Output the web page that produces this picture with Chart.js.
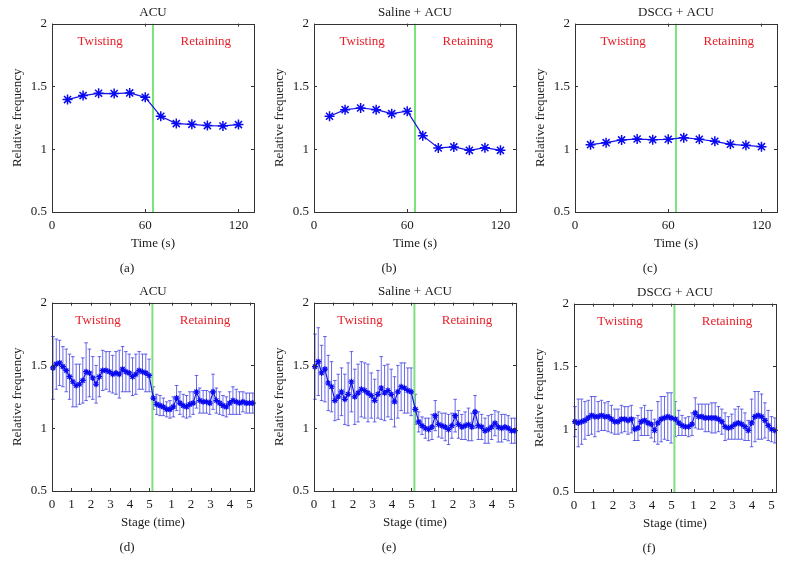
<!DOCTYPE html>
<html>
<head>
<meta charset="utf-8">
<script src="https://cdn.jsdelivr.net/npm/chart.js@4"></script>
<style>
body { margin: 0; background: #fff; }
#fig { position: relative; width: 785px; height: 574px; overflow: hidden; }
#fig canvas { position: absolute; }
</style>
</head>
<body>
<div id="fig">
  <canvas id="pa" width="265" height="285" style="left:0px;top:0px"></canvas>
  <canvas id="pb" width="265" height="285" style="left:262px;top:0px"></canvas>
  <canvas id="pc" width="265" height="285" style="left:523px;top:0px"></canvas>
  <canvas id="pd" width="265" height="285" style="left:0px;top:279px"></canvas>
  <canvas id="pe" width="265" height="285" style="left:262px;top:279px"></canvas>
  <canvas id="pf" width="265" height="285" style="left:522px;top:280px"></canvas>
</div>
<script>
// top row: one value every 10 s
var timeX = [10, 20, 30, 40, 50, 60, 70, 80, 90, 100, 110, 120];
var acuTime    = [1.395, 1.427, 1.445, 1.443, 1.448, 1.413, 1.262, 1.204, 1.198, 1.188, 1.185, 1.196];
var salineTime = [1.262, 1.315, 1.328, 1.315, 1.283, 1.302, 1.108, 1.010, 1.018, 0.991, 1.012, 0.991];
var dscgTime   = [1.036, 1.052, 1.074, 1.081, 1.076, 1.079, 1.092, 1.079, 1.063, 1.039, 1.031, 1.020];
var timeTicks = [0, 60, 120];

// bottom row: stage positions (twisting 0..5, then retaining restarting after the green line)
var stageX = [0.05, 0.22, 0.39, 0.56, 0.73, 0.9, 1.07, 1.24, 1.41, 1.58, 1.75, 1.92, 2.09, 2.26, 2.43,
  2.6, 2.77, 2.94, 3.11, 3.28, 3.45, 3.62, 3.79, 3.96, 4.13, 4.3, 4.47, 4.64, 4.81, 4.98,
  5.2, 5.37, 5.54, 5.71, 5.88, 6.05, 6.22, 6.39, 6.56, 6.73, 6.9, 7.07, 7.24, 7.41, 7.58,
  7.75, 7.92, 8.09, 8.26, 8.43, 8.6, 8.77, 8.94, 9.11, 9.28, 9.45, 9.62, 9.79, 9.96, 10.13, 10.3];
var stageTicks = [0, 1, 2, 3, 4, 5, 6.13, 7.13, 8.13, 9.13, 10.13];
var stageTickLabels = ['0', '1', '2', '3', '4', '5', '1', '2', '3', '4', '5'];

var acuStage = [1.48, 1.51, 1.52, 1.49, 1.46, 1.41, 1.37, 1.34, 1.35, 1.38, 1.45, 1.44, 1.40, 1.35, 1.41,
  1.46, 1.46, 1.45, 1.43, 1.44, 1.43, 1.47, 1.45, 1.44, 1.41, 1.43, 1.46, 1.45, 1.44, 1.42,
  1.24, 1.19, 1.18, 1.17, 1.15, 1.15, 1.17, 1.24, 1.20, 1.18, 1.17, 1.19, 1.20, 1.29, 1.22,
  1.21, 1.21, 1.20, 1.29, 1.22, 1.20, 1.18, 1.17, 1.20, 1.22, 1.21, 1.20, 1.21, 1.20, 1.20, 1.20];
var acuErr = [0.25, 0.20, 0.18, 0.16, 0.17, 0.18, 0.20, 0.17, 0.16, 0.18, 0.23, 0.19, 0.17, 0.15, 0.16,
  0.16, 0.15, 0.16, 0.15, 0.17, 0.19, 0.18, 0.16, 0.15, 0.15, 0.16, 0.15, 0.14, 0.15, 0.13,
  0.09, 0.08, 0.08, 0.07, 0.06, 0.07, 0.08, 0.10, 0.09, 0.09, 0.09, 0.10, 0.09, 0.13, 0.10,
  0.09, 0.09, 0.09, 0.14, 0.10, 0.09, 0.08, 0.08, 0.09, 0.11, 0.10, 0.09, 0.08, 0.08, 0.08, 0.08];

var salineStage = [1.49, 1.53, 1.44, 1.47, 1.36, 1.33, 1.22, 1.25, 1.29, 1.23, 1.27, 1.37, 1.25, 1.28, 1.31,
  1.30, 1.28, 1.26, 1.22, 1.27, 1.32, 1.28, 1.30, 1.27, 1.21, 1.29, 1.33, 1.32, 1.30, 1.29,
  1.15, 1.05, 1.02, 1.00, 0.99, 1.01, 1.10, 1.03, 1.02, 1.01, 0.99, 1.02, 1.10, 1.03, 1.01,
  1.02, 1.03, 1.01, 1.13, 1.02, 1.01, 0.98, 0.99, 1.01, 1.04, 1.01, 1.00, 1.01, 1.00, 0.98, 0.98];
var salineErr = [0.26, 0.27, 0.22, 0.26, 0.22, 0.20, 0.16, 0.18, 0.19, 0.20, 0.25, 0.24, 0.22, 0.23, 0.22,
  0.22, 0.23, 0.18, 0.17, 0.19, 0.25, 0.22, 0.21, 0.20, 0.20, 0.21, 0.19, 0.20, 0.18, 0.19,
  0.12, 0.08, 0.07, 0.08, 0.09, 0.10, 0.12, 0.10, 0.10, 0.11, 0.12, 0.10, 0.13, 0.11, 0.10,
  0.11, 0.13, 0.11, 0.13, 0.11, 0.10, 0.10, 0.11, 0.10, 0.10, 0.12, 0.11, 0.10, 0.10, 0.10, 0.10];

var dscgStage = [1.06, 1.05, 1.06, 1.07, 1.09, 1.11, 1.10, 1.10, 1.11, 1.10, 1.10, 1.08, 1.06, 1.06, 1.08,
  1.08, 1.07, 1.08, 1.00, 1.01, 1.06, 1.07, 1.05, 1.04, 0.99, 1.05, 1.08, 1.09, 1.10, 1.09,
  1.08, 1.05, 1.03, 1.02, 1.02, 1.04, 1.13, 1.10, 1.10, 1.09, 1.09, 1.09, 1.09, 1.08, 1.06,
  1.02, 1.01, 1.02, 1.04, 1.05, 1.04, 1.02, 0.99, 1.05, 1.10, 1.11, 1.10, 1.07, 1.03, 1.00, 0.99];
var dscgErr = [0.12, 0.19, 0.18, 0.15, 0.14, 0.15, 0.16, 0.12, 0.12, 0.11, 0.12, 0.11, 0.10, 0.10, 0.11,
  0.10, 0.11, 0.11, 0.09, 0.10, 0.11, 0.12, 0.10, 0.11, 0.09, 0.17, 0.18, 0.17, 0.19, 0.20,
  0.14, 0.10, 0.08, 0.07, 0.08, 0.09, 0.12, 0.10, 0.10, 0.11, 0.11, 0.12, 0.12, 0.10, 0.10,
  0.11, 0.09, 0.10, 0.12, 0.13, 0.12, 0.11, 0.08, 0.19, 0.20, 0.19, 0.18, 0.14, 0.12, 0.10, 0.10];

var yTicks = [0.5, 1, 1.5, 2];
var phaseNames = ['Twisting', 'Retaining'];
var phaseTimeX = [31, 99];
var phaseStageX = [2.36, 7.85];
var phaseY = 1.86;
var splitTime = 65;
var splitStage = 5.15;

Chart.defaults.font.family = "'Liberation Serif', 'DejaVu Serif', serif";
Chart.defaults.font.size = 13;
Chart.defaults.color = '#1a1a1a';

// error bars under the line
var errorBars = {
  id: 'errorBars',
  beforeDatasetsDraw: function(chart) {
    var ctx = chart.ctx, xs = chart.scales.x, ys = chart.scales.y;
    chart.data.datasets.forEach(function(ds) {
      if (!ds.errors) return;
      ctx.save();
      ctx.strokeStyle = 'rgba(55,55,225,0.75)';
      ctx.lineWidth = 1;
      ctx.beginPath();
      ds.data.forEach(function(p, i) {
        var px = xs.getPixelForValue(p.x);
        var t = ys.getPixelForValue(p.y + ds.errors[i]);
        var b = ys.getPixelForValue(p.y - ds.errors[i]);
        ctx.moveTo(px, t); ctx.lineTo(px, b);
        ctx.moveTo(px - 1.8, t); ctx.lineTo(px + 1.8, t);
        ctx.moveTo(px - 1.8, b); ctx.lineTo(px + 1.8, b);
      });
      ctx.stroke();
      ctx.restore();
    });
  }
};

// matlab-like box with inward ticks + phase names
var boxAndLabels = {
  id: 'boxAndLabels',
  afterDraw: function(chart) {
    var ctx = chart.ctx, a = chart.chartArea;
    var xs = chart.scales.x, ys = chart.scales.y;
    ctx.save();
    ctx.strokeStyle = '#333';
    ctx.lineWidth = 1;
    ctx.strokeRect(Math.round(a.left) + 0.5, Math.round(a.top) + 0.5,
      Math.round(a.right - a.left), Math.round(a.bottom - a.top));
    ctx.beginPath();
    xs.ticks.forEach(function(t) {
      var px = Math.round(xs.getPixelForValue(t.value)) + 0.5;
      ctx.moveTo(px, a.bottom); ctx.lineTo(px, a.bottom - 3);
      ctx.moveTo(px, a.top); ctx.lineTo(px, a.top + 3);
    });
    ys.ticks.forEach(function(t) {
      var py = Math.round(ys.getPixelForValue(t.value)) + 0.5;
      ctx.moveTo(a.left, py); ctx.lineTo(a.left + 3, py);
      ctx.moveTo(a.right, py); ctx.lineTo(a.right - 3, py);
    });
    ctx.stroke();
    var px = chart.options.plugins.boxAndLabels.phaseX;
    ctx.fillStyle = '#e8202a';
    ctx.font = "13px 'Liberation Serif', serif";
    ctx.textAlign = 'center';
    ctx.textBaseline = 'middle';
    phaseNames.forEach(function(name, i) {
      ctx.fillText(name, xs.getPixelForValue(px[i]), ys.getPixelForValue(phaseY));
    });
    ctx.restore();
  }
};

function pts(xv, yv) {
  return xv.map(function(x, i) { return { x: x, y: yv[i] }; });
}

function makePanel(id, title, tag, xTitle, xv, yv, errs, opt) {
  var datasets = [{
    data: pts(xv, yv),
    errors: errs,
    showLine: true,
    borderColor: '#1414e6',
    backgroundColor: '#1414e6',
    borderWidth: opt.lineWidth,
    pointStyle: 'star',
    pointRadius: opt.radius,
    pointBorderWidth: opt.starWidth,
    pointBorderColor: '#0a0af0',
    clip: false
  }, {
    data: [{ x: opt.split, y: 0.5 }, { x: opt.split, y: 2 }],
    showLine: true,
    borderColor: opt.green,
    borderWidth: opt.greenWidth,
    pointRadius: 0
  }];
  return new Chart(document.getElementById(id), {
    type: 'scatter',
    data: { datasets: datasets },
    options: {
      responsive: false,
      animation: false,
      layout: { padding: { left: 0, right: 11, top: 0, bottom: 0 } },
      plugins: {
        legend: { display: false },
        tooltip: { enabled: false },
        title: {
          display: true, text: title, fullSize: false,
          font: { size: 13, weight: 'normal' }, padding: { top: 5, bottom: 3 }
        },
        subtitle: { display: true, text: tag, position: 'bottom', font: { size: 13 }, color: '#1a1a1a', padding: { top: 0, bottom: 9 } },
        boxAndLabels: { phaseX: opt.phaseX }
      },
      scales: {
        x: {
          type: 'linear',
          min: 0,
          max: opt.xMax,
          grid: { display: false, drawTicks: false },
          border: { display: false },
          ticks: {
            autoSkip: false,
            maxRotation: 0,
            padding: 6,
            font: { size: 13 },
            callback: function(v) {
              var k = opt.ticks.indexOf(v);
              return k >= 0 ? opt.tickLabels[k] : '';
            }
          },
          afterBuildTicks: function(s) {
            s.ticks = opt.ticks.map(function(v) { return { value: v }; });
          },
          afterFit: function(s) { s.height = 48.4; },
          title: { display: true, text: xTitle, font: { size: 13 }, padding: { top: 0, bottom: 8.6 } }
        },
        y: {
          min: 0.5,
          max: 2,
          grid: { display: false, drawTicks: false },
          border: { display: false },
          ticks: {
            padding: 5,
            font: { size: 13 },
            callback: function(v) { return String(v); }
          },
          afterBuildTicks: function(s) {
            s.ticks = yTicks.map(function(v) { return { value: v }; });
          },
          afterFit: function(s) { s.width = 52; },
          title: { display: true, text: 'Relative frequency', font: { size: 13 }, padding: { top: 10, bottom: 0 } }
        }
      }
    },
    plugins: [errorBars, boxAndLabels]
  });
}

var timeOpt = {
  xMax: 130, ticks: timeTicks, tickLabels: timeTicks.map(String), split: splitTime,
  phaseX: phaseTimeX, radius: 5, starWidth: 1.5, lineWidth: 1.2, green: '#22d022', greenWidth: 1.2
};
var stageOpt = {
  xMax: 10.36, ticks: stageTicks, tickLabels: stageTickLabels, split: splitStage,
  phaseX: phaseStageX, radius: 3, starWidth: 1.2, lineWidth: 1.2, green: '#7fe07f', greenWidth: 2
};

makePanel('pa', 'ACU', '(a)', 'Time (s)', timeX, acuTime, null, timeOpt);
makePanel('pb', 'Saline + ACU', '(b)', 'Time (s)', timeX, salineTime, null, timeOpt);
makePanel('pc', 'DSCG + ACU', '(c)', 'Time (s)', timeX, dscgTime, null, timeOpt);
makePanel('pd', 'ACU', '(d)', 'Stage (time)', stageX, acuStage, acuErr, stageOpt);
makePanel('pe', 'Saline + ACU', '(e)', 'Stage (time)', stageX, salineStage, salineErr, stageOpt);
makePanel('pf', 'DSCG + ACU', '(f)', 'Stage (time)', stageX, dscgStage, dscgErr, stageOpt);
</script>
</body>
</html>
